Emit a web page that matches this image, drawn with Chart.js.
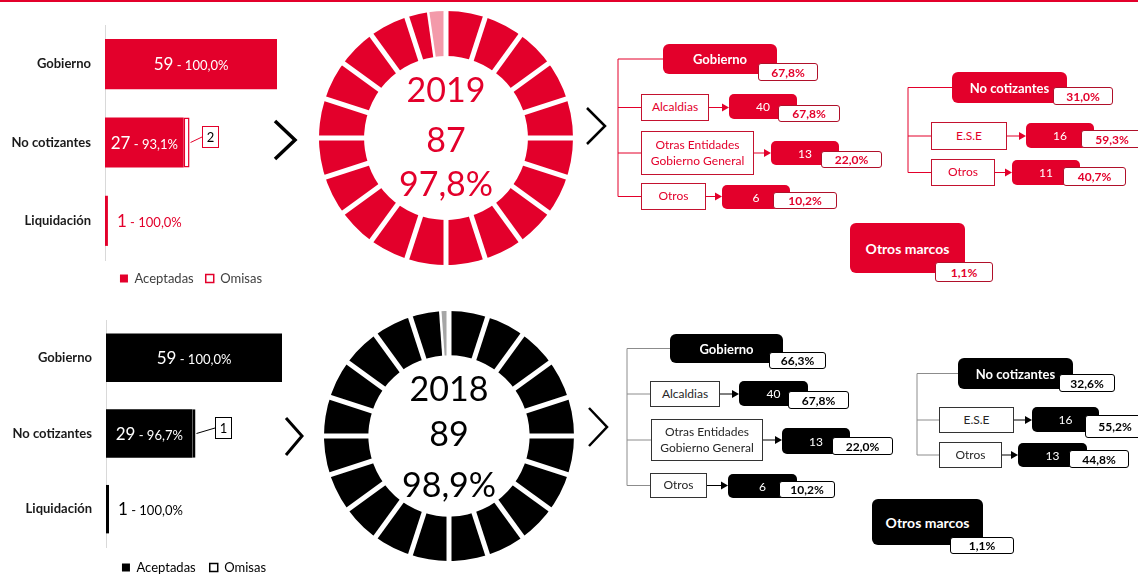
<!DOCTYPE html>
<html lang="es">
<head>
<meta charset="UTF-8">
<title>Entidades reportantes 2019 - 2018</title>
<script src="https://cdn.jsdelivr.net/npm/chart.js@4.4.1/dist/chart.umd.min.js"></script>
<style>
  body { margin: 0; width: 1138px; height: 578px; position: relative; overflow: hidden; background: #fff; font-family: 'Lato', sans-serif; }
  canvas { position: absolute; z-index: 0; }
  #lines { position: absolute; left: 0; top: 0; z-index: 1; }
  #boxes { position: absolute; left: 0; top: 0; z-index: 2; }
  .bx { position: absolute; box-sizing: border-box; display: flex; align-items: center; justify-content: center; text-align: center; white-space: nowrap; }
  .root { border-radius: 6px; color: #fff; font-weight: bold; font-size: 13px; }
  .root.big { font-size: 14px; }
  .lab { background: #fff; border: 1px solid; font-size: 12px; white-space: pre-line; line-height: 16.5px; }
  .cnt { border-radius: 5px; color: #fff; font-size: 12px; }
  .pct { background: #fff; border: 1px solid; border-radius: 3px; font-size: 12px; font-weight: bold; }
</style>
</head>
<body>
<canvas id="bar2019" width="300" height="300" style="left:0;top:0"></canvas>
<canvas id="bar2018" width="305" height="283" style="left:0;top:295px"></canvas>
<canvas id="donut2019" width="254" height="254" style="left:319px;top:11px"></canvas>
<canvas id="donut2018" width="250" height="250" style="left:324px;top:311px"></canvas>
<svg id="lines" width="1138" height="578"></svg>
<div id="boxes"></div>

<script>
// ---- data ----
const years = ['2019', '2018'];
const categories = ['Gobierno', 'No cotizantes', 'Liquidación'];
const accepted2019 = [59, 27, 1];
const omitted2019 = [0, 2, 0];
const accepted2018 = [59, 29, 1];
const omitted2018 = [0, 1, 0];

const rootNames = ['Gobierno', 'No cotizantes', 'Otros marcos'];
const gobSubNames = ['Alcaldias', 'Otras Entidades\nGobierno General', 'Otros'];
const gobSub2019 = [40, 13, 6];
const gobSub2018 = [40, 13, 6];
const ncSubNames = ['E.S.E', 'Otros'];
const ncSub2019 = [16, 11];
const ncSub2018 = [16, 13];

const RED = '#e3002b';

Chart.defaults.font.family = "Lato, 'Open Sans', sans-serif";

function pct(v) {
  return v.toFixed(1).replace('.', ',') + '%';
}
const sum = a => a.reduce((s, v) => s + v, 0);

// value labels ("59 - 100,0%") and the omisas callout box
const barValueLabels = {
  id: 'barValueLabels',
  afterDatasetsDraw(chart, args, o) {
    const ctx = chart.ctx;
    const acc = chart.data.datasets[0].data;
    const om = chart.data.datasets[1].data;
    ctx.save();
    chart.getDatasetMeta(0).data.forEach((bar, i) => {
      const big = String(acc[i]);
      const small = ' - ' + pct(acc[i] / (acc[i] + om[i]) * 100);
      ctx.font = '17px Lato';
      const w1 = ctx.measureText(big).width;
      ctx.font = '13px Lato';
      const w2 = ctx.measureText(small).width;
      const inside = bar.x - bar.base > w1 + w2 + 6;
      const x = inside ? (bar.base + bar.x - w1 - w2) / 2 : bar.x + 9;
      ctx.fillStyle = inside ? '#fff' : o.outColor;
      ctx.textAlign = 'left';
      ctx.textBaseline = 'alphabetic';
      ctx.font = '17px Lato';
      ctx.fillText(big, x, bar.y + 6);
      ctx.font = '13px Lato';
      ctx.fillText(small, x + w1, bar.y + 6);
    });
    chart.getDatasetMeta(1).data.forEach((bar, i) => {
      if (!om[i]) return;
      const bx = Math.round(bar.x + o.dx), by = Math.round(bar.y - 6);
      ctx.strokeStyle = o.line;
      ctx.lineWidth = 1;
      ctx.beginPath();
      ctx.moveTo(bar.x + 1, bar.y);
      ctx.lineTo(bx, by);
      ctx.stroke();
      ctx.fillStyle = '#fff';
      ctx.fillRect(bx, by - 11, 17, 22);
      ctx.strokeRect(bx + 0.5, by - 10.5, 16, 21);
      ctx.fillStyle = '#000';
      ctx.font = '13px Lato';
      ctx.textAlign = 'center';
      ctx.textBaseline = 'middle';
      ctx.fillText(String(om[i]), bx + 8.5, by + 1);
    });
    ctx.restore();
  }
};

function barChart(id, acc, om, color, cfg) {
  const chart = new Chart(document.getElementById(id), {
    type: 'bar',
    data: {
      labels: categories,
      datasets: [
        { label: 'Aceptadas', data: acc, backgroundColor: color, borderWidth: 0 },
        { label: 'Omisas', data: om, backgroundColor: '#fff', borderColor: color, borderWidth: 1.5, borderSkipped: false }
      ]
    },
    options: {
      indexAxis: 'y',
      responsive: false,
      animation: false,
      devicePixelRatio: 1,
      layout: { padding: { top: cfg.top, right: cfg.right, bottom: 0, left: 0 } },
      datasets: { bar: { categoryPercentage: 1, barPercentage: 0.64 } },
      scales: {
        x: { stacked: true, display: false, min: 0, max: Math.max(...acc) },
        y: {
          stacked: true,
          grid: { display: false, drawTicks: false },
          border: { display: true, color: '#d9d9d9' },
          ticks: { padding: 14, color: '#1a1a1a', font: { size: 13, weight: 'bold' } },
          afterFit: s => { s.width = cfg.axisX; }
        }
      },
      plugins: {
        legend: {
          position: 'bottom',
          fullSize: false,
          labels: { boxWidth: 8, boxHeight: 8, padding: cfg.legPad, color: cfg.legColor, font: { size: 13 } }
        },
        tooltip: { enabled: false },
        barValueLabels: { outColor: cfg.outColor, dx: cfg.dx, line: color }
      }
    },
    plugins: [barValueLabels]
  });
  // place the plot area where the axis sits in the picture
  for (let k = 0; k < 3; k++) {
    const a = chart.chartArea;
    chart.options.layout.padding = {
      top: cfg.top, right: cfg.right, left: 0,
      bottom: (chart.options.layout.padding.bottom || 0) + a.bottom - cfg.bottom
    };
    chart.update();
  }
  return chart;
}

barChart('bar2019', accepted2019, omitted2019, RED,
  { right: 23, axisX: 105, top: 25, bottom: 260, legPad: 12, legColor: '#404040', outColor: RED, dx: 12 });
barChart('bar2018', accepted2018, omitted2018, '#000',
  { right: 23, axisX: 106, top: 25, bottom: 252, legPad: 14, legColor: '#000', outColor: '#000', dx: 20 });

// segmented ring: white gaps every 18 degrees + between slices, and the centre text
const ringGaps = {
  id: 'ringGaps',
  afterDatasetsDraw(chart, args, o) {
    const meta = chart.getDatasetMeta(0);
    const { x, y, outerRadius } = meta.data[0];
    const ctx = chart.ctx;
    ctx.save();
    ctx.strokeStyle = '#fff';
    const gap = (ang, w) => {
      ctx.lineWidth = w;
      ctx.beginPath();
      ctx.moveTo(x, y);
      ctx.lineTo(x + Math.cos(ang) * (outerRadius + 3), y + Math.sin(ang) * (outerRadius + 3));
      ctx.stroke();
    };
    for (let k = 0; k < o.segments; k++) gap(-Math.PI / 2 + k * 2 * Math.PI / o.segments, o.width);
    meta.data.forEach(arc => gap(arc.endAngle, o.sliceWidth));
    ctx.restore();
  },
  afterDraw(chart, args, o) {
    const { x, y } = chart.getDatasetMeta(0).data[0];
    const ctx = chart.ctx;
    ctx.save();
    ctx.fillStyle = o.color;
    ctx.font = '34px Lato';
    ctx.textAlign = 'center';
    ctx.textBaseline = 'middle';
    o.lines.forEach((t, i) => ctx.fillText(t, x, y + o.offsets[i]));
    ctx.restore();
  }
};

function donut(id, year, acc, om, colors, textColor, offsets) {
  const ok = sum(acc), miss = sum(om);
  return new Chart(document.getElementById(id), {
    type: 'doughnut',
    data: {
      labels: ['Aceptadas', 'Omisas'],
      datasets: [{ data: [ok, miss], backgroundColor: colors, borderWidth: 0 }]
    },
    options: {
      responsive: false,
      animation: false,
      devicePixelRatio: 1,
      cutout: '64.5%',
      plugins: {
        legend: { display: false },
        tooltip: { enabled: false },
        ringGaps: {
          segments: 20, width: 5, sliceWidth: 2.5, color: textColor, offsets: offsets,
          lines: [year, String(ok), pct(ok / (ok + miss) * 100)]
        }
      }
    },
    plugins: [ringGaps]
  });
}

donut('donut2019', years[0], accepted2019, omitted2019, [RED, '#f39aaa'], RED, [-47, 3, 47]);
donut('donut2018', years[1], accepted2018, omitted2018, ['#000', '#a6a6a6'], '#000', [-46, -1, 50]);

// ---- tree boxes (layout only; values come from the arrays above) ----
const LAYOUT = {
  2019: {
    gob: { conn: 618, root: [663, 44, 114, 30], rootPct: [758, 63, 60, 18], rows: [
      { lab: [641, 94, 68, 27], cnt: [729, 94, 68, 25], pct: [778, 105, 62, 17] },
      { lab: [641, 131, 113, 44], cnt: [771, 141, 68, 24], pct: [821, 151, 61, 17] },
      { lab: [641, 183, 65, 27], cnt: [722, 185, 68, 24], pct: [773, 192, 64, 17] }
    ] },
    nc: { conn: 908, root: [952, 72, 115, 31], rootPct: [1053, 87, 60, 18], rows: [
      { lab: [931, 122, 76, 28], cnt: [1026, 123, 68, 25], pct: [1081, 130, 62, 18] },
      { lab: [931, 159, 64, 27], cnt: [1012, 160, 68, 25], pct: [1063, 167, 63, 19] }
    ] },
    om: { root: [850, 223, 115, 50], rootPct: [935, 262, 58, 20] }
  },
  2018: {
    gob: { conn: 627, root: [670, 334, 113, 29], rootPct: [769, 352, 57, 17], rows: [
      { lab: [650, 381, 70, 26], cnt: [739, 381, 69, 25], pct: [788, 391, 61, 18] },
      { lab: [651, 419, 112, 42], cnt: [782, 428, 68, 26], pct: [832, 437, 61, 18] },
      { lab: [650, 473, 57, 25], cnt: [728, 474, 69, 24], pct: [779, 481, 56, 17] }
    ] },
    nc: { conn: 917, root: [958, 358, 115, 31], rootPct: [1059, 374, 56, 18], rows: [
      { lab: [939, 407, 75, 26], cnt: [1032, 407, 67, 25], pct: [1085, 415, 60, 23] },
      { lab: [939, 442, 63, 26], cnt: [1018, 443, 69, 24], pct: [1069, 450, 60, 18] }
    ] },
    om: { root: [872, 499, 111, 46], rootPct: [950, 537, 64, 17] }
  }
};

const THEME = {
  2019: { main: RED, labText: RED, labBorder: '#c4122f', pctText: RED, pctBorder: '#b0102a', conn: RED, arrow: RED },
  2018: { main: '#000', labText: '#262626', labBorder: '#333', pctText: '#000', pctBorder: '#000', conn: '#8c8c8c', arrow: '#000' }
};

const svgParts = [];
const boxesEl = document.getElementById('boxes');

function box(r, cls, text, style) {
  const d = document.createElement('div');
  d.className = 'bx ' + cls;
  d.style.cssText = `left:${r[0]}px;top:${r[1]}px;width:${r[2]}px;height:${r[3]}px;` + style;
  d.textContent = text;
  boxesEl.appendChild(d);
}
function line(x1, y1, x2, y2, color, w) {
  svgParts.push(`<line x1="${x1}" y1="${y1}" x2="${x2}" y2="${y2}" stroke="${color}" stroke-width="${w || 1}"/>`);
}
function arrow(x1, x2, y, color) {
  line(x1, y, x2 - 6, y, color);
  svgParts.push(`<polygon points="${x2 - 7},${y - 4} ${x2},${y} ${x2 - 7},${y + 4}" fill="${color}"/>`);
}
const cy = r => r[1] + r[3] / 2;

function branch(L, th, rootName, share, names, counts, bigRoot) {
  if (L.rows) {
    const total = sum(counts);
    const ry = cy(L.root);
    line(L.conn, ry, L.conn, cy(L.rows[L.rows.length - 1].lab), th.conn);
    line(L.conn, ry, L.root[0], ry, th.conn);
    L.rows.forEach((row, i) => {
      const y = cy(row.lab);
      line(L.conn, y, row.lab[0], y, th.conn);
      arrow(row.lab[0] + row.lab[2], row.cnt[0], y, th.arrow);
      box(row.lab, 'lab', names[i], `color:${th.labText};border-color:${th.labBorder}`);
      box(row.cnt, 'cnt', String(counts[i]), `background:${th.main}`);
      box(row.pct, 'pct', pct(counts[i] / total * 100), `color:${th.pctText};border-color:${th.pctBorder}`);
    });
  }
  box(L.root, 'root' + (bigRoot ? ' big' : ''), rootName, `background:${th.main}`);
  box(L.rootPct, 'pct', pct(share), `color:${th.pctText};border-color:${th.pctBorder}`);
}

function tree(year, acc, gobSub, ncSub) {
  const L = LAYOUT[year], th = THEME[year], tot = sum(acc);
  branch(L.gob, th, rootNames[0], acc[0] / tot * 100, gobSubNames, gobSub);
  branch(L.nc, th, rootNames[1], acc[1] / tot * 100, ncSubNames, ncSub);
  branch(L.om, th, rootNames[2], acc[2] / tot * 100, null, null, true);
}
tree(2019, accepted2019, gobSub2019, ncSub2019);
tree(2018, accepted2018, gobSub2018, ncSub2018);

// chevrons and top rule
function chevron(x, y1, xm, ym, y2, w) {
  svgParts.push(`<polyline points="${x},${y1} ${xm},${ym} ${x},${y2}" fill="none" stroke="#000" stroke-width="${w}"/>`);
}
chevron(275, 121, 295, 140, 159, 3.5);
chevron(587, 108, 605, 126, 144, 2.5);
chevron(286, 418, 302, 436, 455, 3);
chevron(589, 408, 607, 427, 446, 2.5);
svgParts.push(`<rect x="0" y="0" width="1138" height="2" fill="${RED}"/>`);

document.getElementById('lines').innerHTML = svgParts.join('');
</script>
</body>
</html>
